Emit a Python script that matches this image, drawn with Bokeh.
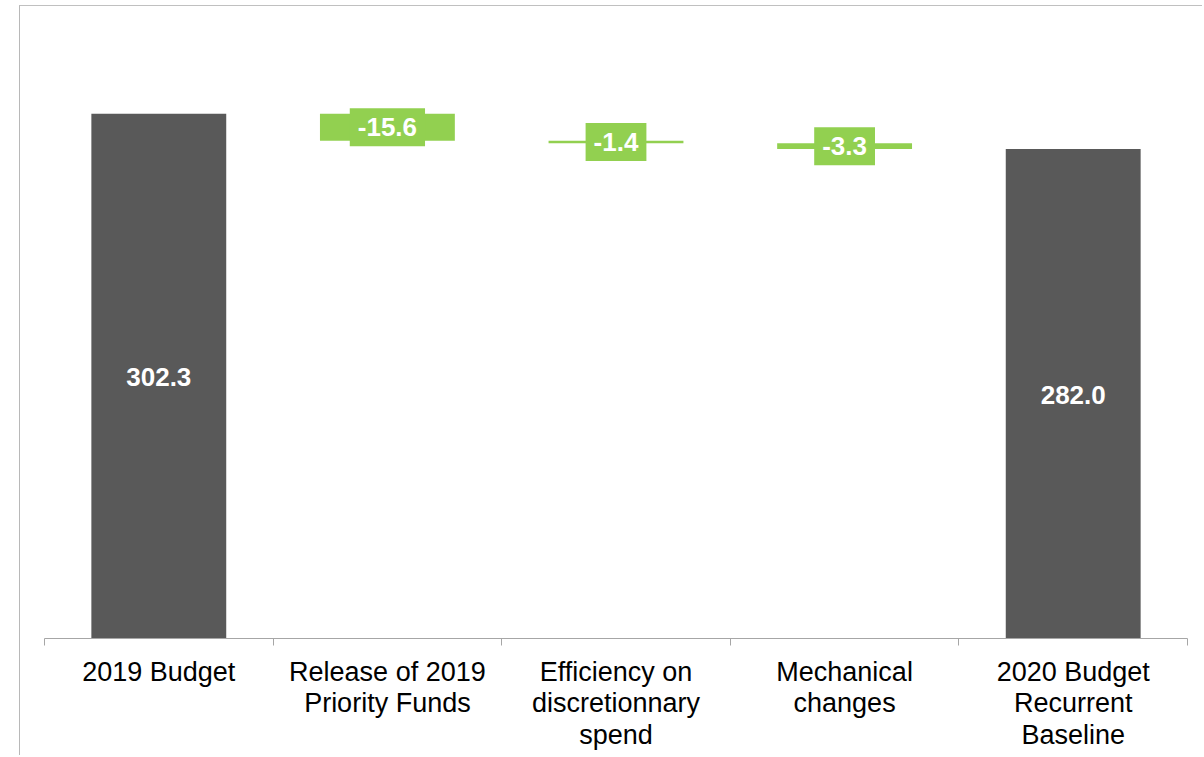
from bokeh.plotting import figure
from bokeh.models import ColumnDataSource, FixedTicker, Range1d
from bokeh.embed import file_html
from bokeh.resources import INLINE
from bokeh.core.properties import value

# ---- data ----
categories = [
    "2019 Budget",
    "Release of 2019\nPriority Funds",
    "Efficiency on\ndiscretionnary\nspend",
    "Mechanical\nchanges",
    "2020 Budget\nRecurrent\nBaseline",
]
start_total = 302.3
changes = [-15.6, -1.4, -3.3]
end_total = 282.0

# ---- derived waterfall geometry ----
idx = list(range(len(categories)))
tot_x = [idx[0], idx[-1]]
tot_top = [start_total, end_total]
tot_bottom = [0, 0]
tot_lbl = [f"{v:.1f}" for v in tot_top]
tot_mid = [(a + b) / 2 for a, b in zip(tot_top, tot_bottom)]

chg_x, chg_top, chg_bot, chg_lbl, chg_mid = [], [], [], [], []
run = start_total
for i, c in zip(idx[1:-1], changes):
    nxt = run + c
    chg_x.append(i)
    chg_top.append(max(run, nxt))
    chg_bot.append(min(run, nxt))
    chg_lbl.append(f"{c:.1f}")
    chg_mid.append((run + nxt) / 2)
    run = nxt

tot_src = ColumnDataSource(dict(x=tot_x, top=tot_top, bottom=tot_bottom, label=tot_lbl, mid=tot_mid))
chg_src = ColumnDataSource(dict(x=chg_x, top=chg_top, bottom=chg_bot, label=chg_lbl, mid=chg_mid))

GRAY = "#595959"
GREEN = "#92d050"
FONT = "Liberation Sans"

p = figure(width=1183, height=750, output_backend="svg", toolbar_location=None,
           x_range=Range1d(-0.5, 4.5), y_range=Range1d(0, 364.1),
           y_axis_location=None, min_border_left=24, min_border_right=16,
           min_border_top=0, min_border_bottom=118)
p.outline_line_color = None
p.xgrid.visible = False
p.ygrid.visible = False
p.background_fill_color = "white"
p.border_fill_color = "white"
p.margin = (5, 0, 0, 19)
p.styles = {"border-top": "1.5px solid #c0c0c0", "border-left": "1.5px solid #b8b8b8"}

p.vbar(x="x", top="top", bottom="bottom", width=0.59, source=tot_src,
       fill_color=GRAY, line_color=None)
p.vbar(x="x", top="top", bottom="bottom", width=0.59, source=chg_src,
       fill_color=GREEN, line_color=None)

p.text(x="x", y="mid", text="label", source=tot_src, text_color="white",
       text_font=value(FONT), text_font_style="bold", text_font_size="26px",
       text_align="center", text_baseline="middle", y_offset=1)
p.text(x="x", y="mid", text="label", source=chg_src, text_color="white",
       text_font=value(FONT), text_font_style="bold", text_font_size="26px",
       text_align="center", text_baseline="middle", y_offset=0,
       background_fill_color=GREEN, padding=(8, 10))

ax = p.xaxis[0]
ax.ticker = FixedTicker(ticks=idx, minor_ticks=[i - 0.5 for i in idx] + [idx[-1] + 0.5])
ax.major_label_overrides = {i: c for i, c in zip(idx, categories)}
ax.axis_line_color = "#a6a6a6"
ax.axis_line_width = 1
ax.major_tick_line_color = None
ax.major_tick_out = 0
ax.major_tick_in = 0
ax.minor_tick_line_color = "#a6a6a6"
ax.minor_tick_out = 7
ax.minor_tick_in = 0
ax.major_label_standoff = 11
ax.major_label_text_font = FONT
ax.major_label_text_font_size = "27px"
ax.major_label_text_color = "black"
ax.major_label_text_line_height = 1.06
ax.major_label_orientation = "horizontal"

open("out.html", "w").write(file_html(p, INLINE))
